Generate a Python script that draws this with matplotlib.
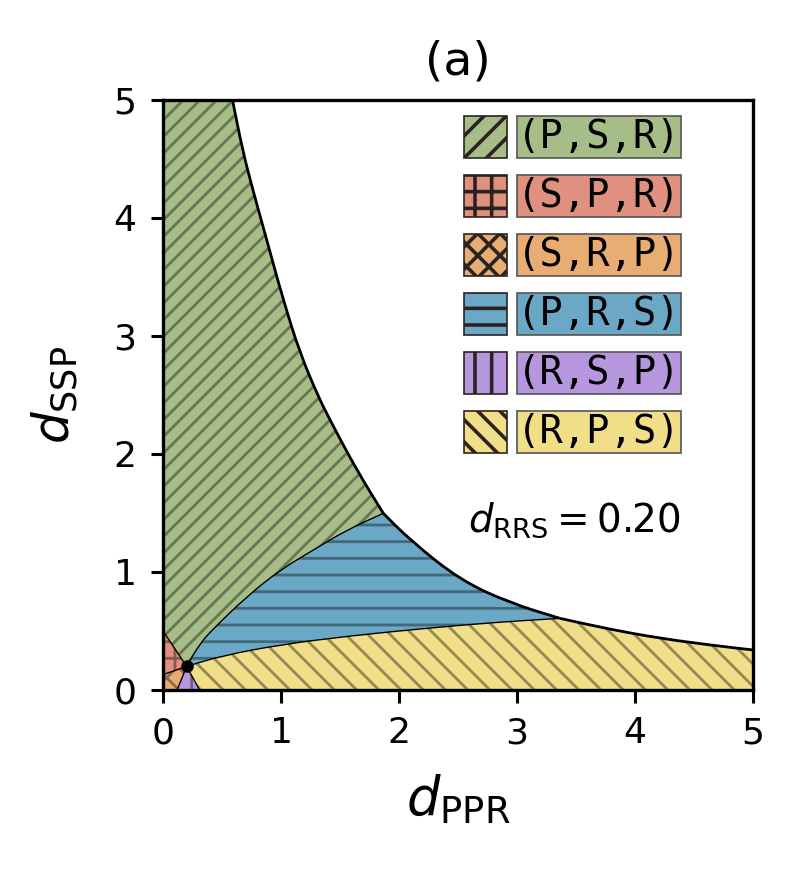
import numpy as np
import matplotlib
matplotlib.use('Agg')
import matplotlib.pyplot as plt
from matplotlib.patches import Rectangle, PathPatch
from matplotlib.path import Path

# point where all regions meet (d_RRS)
d_rrs = 0.20

# outer boundary (white region above)
edge_x = [0.589, 0.674, 0.754, 0.879, 1.019, 1.161, 1.316, 1.415, 1.641, 1.867,
          2.093, 2.517, 2.941, 3.364, 3.788, 4.212, 4.636, 5.0]
edge_y = [5.0, 4.576, 4.265, 3.814, 3.305, 2.853, 2.486, 2.288, 1.864, 1.497,
          1.271, 0.932, 0.737, 0.607, 0.514, 0.438, 0.381, 0.339]

# green / blue border
gb_x = [0.2, 0.31, 0.427, 0.709, 0.992, 1.274, 1.557, 1.867]
gb_y = [0.2, 0.39, 0.52, 0.791, 1.017, 1.186, 1.356, 1.497]

# blue / yellow border
by_x = [0.2, 0.5, 1.0, 1.6, 2.2, 2.8, 3.364]
by_y = [0.2, 0.29, 0.385, 0.46, 0.52, 0.572, 0.607]

# where the small borders meet the axes
red_top = 0.50      # red/green on y axis
red_bottom = 0.13   # red/orange on y axis
purple_left = 0.12  # orange/purple on x axis
purple_right = 0.31 # purple/yellow on x axis

labels = ['(P,S,R)', '(S,P,R)', '(S,R,P)', '(P,R,S)', '(R,S,P)', '(R,P,S)']
colors = ['#a7bd87', '#e0907f', '#e8ad73', '#6aa8c5', '#b697de', '#f0de88']
hatches = ['/', '+', 'x', '-', '|', '\\']


def darker(c, f=0.62):
    r, g, b = matplotlib.colors.to_rgb(c)
    return (r * f, g * f, b * f)


def piece(xs, ys, smooth):
    # smooth path through the read points (quadratic bezier via midpoints)
    pts = list(zip(xs, ys))
    if not smooth or len(pts) < 3:
        return pts, [Path.LINETO] * len(pts)
    mid = lambda a, b: ((a[0] + b[0]) / 2, (a[1] + b[1]) / 2)
    verts = [pts[0], mid(pts[0], pts[1])]
    codes = [Path.LINETO, Path.LINETO]
    for i in range(1, len(pts) - 1):
        verts += [pts[i], mid(pts[i], pts[i + 1])]
        codes += [Path.CURVE3, Path.CURVE3]
    verts.append(pts[-1])
    codes.append(Path.LINETO)
    return verts, codes


def make_path(pieces, close=True):
    verts, codes = [], []
    for xs, ys, smooth in pieces:
        v, c = piece(xs, ys, smooth)
        verts += v
        codes += c
    codes[0] = Path.MOVETO
    if close:
        verts.append(verts[0])
        codes.append(Path.CLOSEPOLY)
    return Path(verts, codes)


plt.rcParams['hatch.linewidth'] = 1.0
fig = plt.figure(figsize=(4, 4.345), dpi=200)
ax = fig.add_axes([0.20375, 0.206, 0.7375, 0.679])

i1 = edge_x.index(1.867)
i2 = edge_x.index(3.364)
top_x, top_y = edge_x[:i1 + 1], edge_y[:i1 + 1]
mid_x, mid_y = edge_x[i1:i2 + 1], edge_y[i1:i2 + 1]
low_x, low_y = edge_x[i2:], edge_y[i2:]

regions = [
    [([0, 0, d_rrs], [5, red_top, d_rrs], False), (gb_x, gb_y, True),
     (top_x[::-1], top_y[::-1], True)],
    [([d_rrs, 0, 0], [d_rrs, red_bottom, red_top], False)],
    [([d_rrs, purple_left, 0, 0], [d_rrs, 0, 0, red_bottom], False)],
    [(gb_x, gb_y, True), (mid_x, mid_y, True), (by_x[::-1], by_y[::-1], True)],
    [([d_rrs, purple_right, purple_left], [d_rrs, 0, 0], False)],
    [(by_x, by_y, True), (low_x, low_y, True),
     ([5, 5, purple_right, d_rrs], [low_y[-1], 0, 0, d_rrs], False)],
]
dens = [4, 2, 3, 2, 2, 3]
for k, pcs in enumerate(regions):
    ax.add_patch(PathPatch(make_path(pcs), facecolor=colors[k], edgecolor=darker(colors[k]),
                           hatch=hatches[k] * dens[k], lw=0))

# borders
for xs, ys in [(top_x, top_y), (mid_x, mid_y), (low_x, low_y)]:
    ax.add_patch(PathPatch(make_path([(xs, ys, True)], close=False), fill=False,
                           edgecolor='black', lw=1.0))
for xs, ys in [(gb_x, gb_y), (by_x, by_y)]:
    ax.add_patch(PathPatch(make_path([(xs, ys, True)], close=False), fill=False,
                           edgecolor='black', lw=0.5))
for px, py in [(0, red_top), (0, red_bottom), (purple_left, 0), (purple_right, 0)]:
    ax.plot([d_rrs, px], [d_rrs, py], color='black', lw=0.5)
ax.plot([d_rrs], [d_rrs], 'o', color='black', ms=3.5)

# legend boxes
leg_dens = [3, 2, 3, 2, 2, 3]
for k in range(6):
    yc = 4.686 - 0.5 * k
    sw = Rectangle((2.551, yc - 0.174), 0.364, 0.348, facecolor=colors[k],
                   edgecolor='#2b2320', hatch=hatches[k] * leg_dens[k], lw=0.6)
    if hasattr(sw, 'set_hatch_linewidth'):
        sw.set_hatch_linewidth(1.3)
    ax.add_patch(sw)
    ax.add_patch(Rectangle((2.998, yc - 0.174), 1.39, 0.348, facecolor=colors[k],
                           edgecolor='#555555', lw=0.6))
    ax.text(3.693, yc, labels[k], family='DejaVu Sans Mono', fontsize=14,
            ha='center', va='center')

ax.text(2.585, 1.44, r'$d_{\mathrm{RRS}} = 0.20$', fontsize=14, ha='left', va='center')

ax.set_xlim(0, 5)
ax.set_ylim(0, 5)
ax.set_xticks([0, 1, 2, 3, 4, 5])
ax.set_yticks([0, 1, 2, 3, 4, 5])
ax.tick_params(labelsize=13, width=1.1, length=4.5, pad=5)
for s in ax.spines.values():
    s.set_linewidth(1.2)
ax.set_xlabel(r'$d_{\mathrm{PPR}}$', fontsize=19, labelpad=8)
ax.set_ylabel(r'$d_{\mathrm{SSP}}$', fontsize=18, labelpad=12)
ax.set_title('(a)', fontsize=17, pad=9)

fig.savefig('out.png', dpi=200)
